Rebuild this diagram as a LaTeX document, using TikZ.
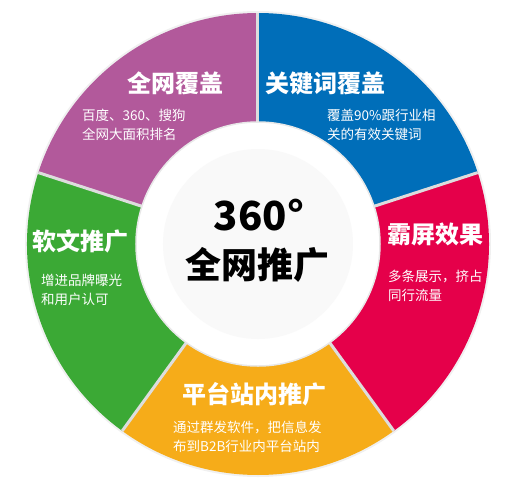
\documentclass[tikz,border=0pt]{standalone}
\usepackage{fontspec}
\setmainfont{Noto Sans CJK SC}
\definecolor{segpurple}{HTML}{B2599B}
\definecolor{segblue}{HTML}{006EB9}
\definecolor{segred}{HTML}{E5004A}
\definecolor{segorange}{HTML}{F6AC19}
\definecolor{seggreen}{HTML}{3BA935}
\definecolor{gapgray}{HTML}{DDDDDD}
\definecolor{centergray}{HTML}{F9F9F9}

\begin{document}
\begin{tikzpicture}[
    x=1pt, y=1pt,
    title text/.style={text=white, font=\fontsize{24}{24}\selectfont\bfseries},
    sub text/.style={text=white, font=\fontsize{13.5}{19}\selectfont, align=left, anchor=west, inner sep=0pt},
    gap line/.style={line width=3pt, draw=gapgray}
]

    % --- 1. RADII OF THE RING ---
    \def\Ro{231} % outer edge
    \def\Ri{120} % inner edge
    \def\Rw{122} % white disc
    \def\Rc{95}  % grey centre disc

    \useasboundingbox (-258,-247) rectangle (251,244);

    % --- 2. RING SEGMENTS ---
    \fill[gray!12] (0,0) circle (\Ro+2);
    \foreach \from/\to/\col in {90/18/segblue, 18/-54/segred, -54/-126/segorange, -126/-198/seggreen, 162/90/segpurple}{
        \fill[\col] (\from:\Ro) arc[start angle=\from, end angle=\to, radius=\Ro]
            -- (\to:\Ri) arc[start angle=\to, end angle=\from, radius=\Ri] -- cycle;
    }
    \foreach \a in {90,18,-54,-126,162}
        \draw[gap line] (\a:\Ri) -- (\a:\Ro);

    % --- 3. CENTRE DISC ---
    \fill[white, draw=gray!18, line width=1.5] (0,0) circle (\Rw);
    \fill[centergray] (0,0) circle (\Rc);
    \node[font=\fontsize{40}{40}\selectfont\bfseries, anchor=base] (degtext) at (1,14) {360°};
    \node[font=\fontsize{36}{36}\selectfont\bfseries] (maintext) at (0,-21) {全网推广};

    % --- 4. SEGMENT LABELS ---
    \node[title text] (covertitle) at (-82,161) {全网覆盖};
    \node[sub text] (coversub) at (-176,119.5) {百度、360、搜狗\\全网大面积排名};

    \node[title text] (keytitle) at (68,161) {关键词覆盖};
    \node[sub text] (keysub) at (69,119.5) {覆盖90\%跟行业相\\关的有效关键词};

    \node[title text] (screentitle) at (177.5,10) {霸屏效果};
    \node[sub text] (screensub) at (130,-41.5) {多条展示，挤占\\同行流量};

    \node[title text] (softtitle) at (-177,3) {软文推广};
    \node[sub text] (softsub) at (-217,-45.5) {增进品牌曝光\\和用户认可};

    \node[title text] (sitetitle) at (-3,-150) {平台站内推广};
    \node[sub text] (sitesub) at (-85,-193) {通过群发软件，把信息发\\布到B2B行业内平台站内};

\end{tikzpicture}
\end{document}
